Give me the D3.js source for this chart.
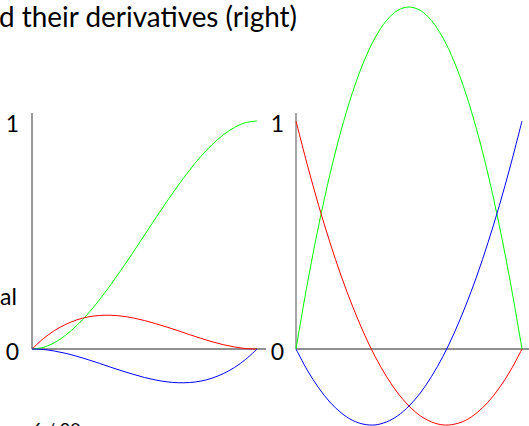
<!DOCTYPE html>
<html>
<head>
<meta charset="utf-8">
<script src="https://cdn.jsdelivr.net/npm/d3@7/dist/d3.min.js"></script>
<style>
  html, body { margin: 0; padding: 0; background: #fff; overflow: hidden; }
  svg { display: block; }
  text { font-family: Lato, "Open Sans", sans-serif; fill: #000; }
</style>
</head>
<body>
<svg id="chart" width="529" height="426"></svg>
<script>
// Parameter samples t = 0, 0.05, ..., 1
const tSamples = [0, 0.05, 0.1, 0.15, 0.2, 0.25, 0.3, 0.35, 0.4, 0.45, 0.5,
                  0.55, 0.6, 0.65, 0.7, 0.75, 0.8, 0.85, 0.9, 0.95, 1];

// Basis functions (left panel)
const basisGreen = [0, 0.007, 0.028, 0.061, 0.104, 0.156, 0.216, 0.282, 0.352, 0.425, 0.5,
                    0.575, 0.648, 0.718, 0.784, 0.844, 0.896, 0.939, 0.972, 0.993, 1];
const basisRed   = [0, 0.045, 0.081, 0.108, 0.128, 0.141, 0.147, 0.148, 0.144, 0.136, 0.125,
                    0.111, 0.096, 0.080, 0.063, 0.047, 0.032, 0.019, 0.009, 0.002, 0];
const basisBlue  = [0, -0.002, -0.009, -0.019, -0.032, -0.047, -0.063, -0.080, -0.096, -0.111, -0.125,
                    -0.136, -0.144, -0.148, -0.147, -0.141, -0.128, -0.108, -0.081, -0.045, 0];

// Derivatives (right panel)
const derivGreen = [0, 0.285, 0.54, 0.765, 0.96, 1.125, 1.26, 1.365, 1.44, 1.485, 1.5,
                    1.485, 1.44, 1.365, 1.26, 1.125, 0.96, 0.765, 0.54, 0.285, 0];
const derivRed   = [1, 0.808, 0.63, 0.468, 0.32, 0.188, 0.07, -0.033, -0.12, -0.193, -0.25,
                    -0.293, -0.32, -0.333, -0.33, -0.313, -0.28, -0.233, -0.17, -0.093, 0];
const derivBlue  = [0, -0.093, -0.17, -0.233, -0.28, -0.313, -0.33, -0.333, -0.32, -0.293, -0.25,
                    -0.193, -0.12, -0.033, 0.07, 0.188, 0.32, 0.468, 0.63, 0.808, 1];

const yTickLabels = ["0", "1"];
const titleText = "d their derivatives (right)";
const sideTexts = ["]", "al"];
const pageText = "6 / 20";

const svg = d3.select("#chart");

// Page text around the panels
svg.append("text").attr("x", -1).attr("y", 27)
  .attr("font-size", 28).attr("textLength", 298).attr("lengthAdjust", "spacingAndGlyphs")
  .text(titleText);
svg.append("text").attr("x", -6).attr("y", 183).attr("font-size", 23).text(sideTexts[0]);
svg.append("text").attr("x", 0).attr("y", 305).attr("font-size", 23).text(sideTexts[1]);
svg.append("text").attr("x", 32).attr("y", 436).attr("font-size", 18).text(pageText);

// Shared vertical scale
const y = d3.scaleLinear().domain([0, 1]).range([349, 121]);

const panels = [
  { x: d3.scaleLinear().domain([0, 1]).range([32, 257]),
    series: [[basisGreen, "#00ff00"], [basisRed, "#ff0000"], [basisBlue, "#0000ff"]],
    yAxisColor: "#333", yAxisWidth: 1, labelX: 19 },
  { x: d3.scaleLinear().domain([0, 1]).range([296, 522]),
    series: [[derivGreen, "#00ff00"], [derivRed, "#ff0000"], [derivBlue, "#0000ff"]],
    yAxisColor: "#808080", yAxisWidth: 1.4, labelX: 284 }
];

panels.forEach(p => {
  const g = svg.append("g");
  // x axis line
  g.append("line")
    .attr("x1", p.x(0)).attr("x2", p.x(1.04))
    .attr("y1", y(0)).attr("y2", y(0))
    .attr("stroke", "#222").attr("stroke-width", 1);
  // y axis line
  g.append("line")
    .attr("x1", p.x(0)).attr("x2", p.x(0))
    .attr("y1", y(0)).attr("y2", y(1.035))
    .attr("stroke", p.yAxisColor).attr("stroke-width", p.yAxisWidth);
  // tick labels
  yTickLabels.forEach(lbl => {
    g.append("text")
      .attr("x", p.labelX).attr("y", y(+lbl) + 11)
      .attr("text-anchor", "end").attr("font-size", 23)
      .text(lbl);
  });
  // curves
  const line = d3.line()
    .x((d, i) => p.x(tSamples[i]))
    .y(d => y(d))
    .curve(d3.curveCatmullRom.alpha(0.5));
  p.series.forEach(([vals, color]) => {
    g.append("path")
      .attr("d", line(vals))
      .attr("fill", "none")
      .attr("stroke", color)
      .attr("stroke-width", 1);
  });
});
</script>
</body>
</html>
